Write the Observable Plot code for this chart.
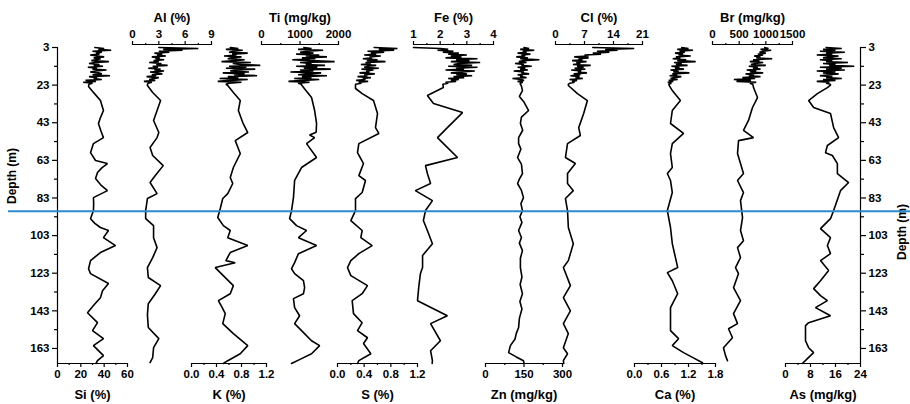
<!DOCTYPE html>
<html>
<head>
<meta charset="utf-8">
<script src="https://cdn.jsdelivr.net/npm/d3@7"></script>
<script src="https://cdn.jsdelivr.net/npm/@observablehq/plot@0.6"></script>
<style>
  body { margin: 0; background: #fff; }
  #chart { position: relative; width: 910px; height: 404px; background: #fff; }
  #chart svg { position: absolute; left: 0; top: 0; }
</style>
</head>
<body>
<div id="chart"></div>
<script>
// ---- Depth axis ----
const depthDomain = [3, 171];
const depthTicks = [3, 23, 43, 63, 83, 103, 123, 143, 163];
const depthMinor = [13, 33, 53, 73, 93, 113, 133, 153];
const boundaryDepth = 90;

// ---- Densely sampled upper interval (3–22.5 m) ----
const topDepth = [3, 3.5, 4, 4.5, 5, 5.5, 6, 6.5, 7, 7.5, 8, 8.5, 9, 9.5, 10, 10.5, 11, 11.5, 12, 12.5,
  13, 13.5, 14, 14.5, 15, 15.5, 16, 16.5, 17, 17.5, 18, 18.5, 19, 19.5, 20, 20.5, 21, 21.5, 22, 22.5];

const siTop = [32, 40, 35, 46, 30, 38, 33, 36, 28, 34, 40, 31, 37, 33, 29, 44, 32, 27, 36, 31,
  39, 26, 34, 30, 42, 33, 28, 35, 38, 30, 45, 27, 34, 31, 38, 24, 33, 22, 30, 27];
const alTop = [3.0, 7.5, 3.5, 5.7, 3.0, 4.2, 2.5, 3.4, 2.8, 3.8, 2.2, 3.1, 2.6, 3.6, 2.4, 3.0, 1.9, 3.3, 2.7, 4.0,
  2.3, 2.9, 1.8, 3.2, 2.5, 3.6, 2.0, 2.8, 3.4, 2.2, 2.7, 1.6, 3.0, 2.4, 1.9, 2.6, 1.3, 2.2, 1.8, 1.7];
const kTop = [0.62, 0.75, 0.55, 0.82, 0.68, 0.60, 0.90, 0.65, 0.72, 0.52, 0.80, 0.63, 0.58, 0.85, 0.70, 0.48, 0.95, 0.66, 0.78, 1.10,
  0.60, 0.88, 0.55, 1.02, 0.70, 0.62, 0.92, 0.50, 0.85, 0.68, 1.05, 0.58, 0.75, 0.45, 0.90, 0.62, 0.42, 0.80, 0.60, 0.55];
const tiTop = [1100, 1300, 950, 1600, 1200, 1000, 1350, 900, 1500, 1150, 1700, 1050, 1400, 800, 1250, 1900, 1000, 1300, 1150, 1650,
  900, 1450, 1100, 1800, 1000, 1350, 750, 1550, 1200, 950, 1700, 1050, 1300, 850, 1500, 1100, 700, 1250, 950, 1040];
const sTop = [0.55, 0.90, 0.62, 0.85, 0.45, 0.70, 0.50, 0.58, 0.40, 0.65, 0.48, 0.52, 0.38, 0.60, 0.44, 0.72, 0.42, 0.50, 0.35, 0.58,
  0.46, 0.40, 0.62, 0.36, 0.54, 0.43, 0.48, 0.33, 0.56, 0.40, 0.45, 0.30, 0.50, 0.38, 0.42, 0.28, 0.46, 0.32, 0.36, 0.27];
const feTop = [1.0, 2.0, 2.3, 1.9, 2.5, 2.1, 2.7, 2.3, 3.0, 2.4, 2.8, 2.2, 3.4, 2.6, 3.1, 2.4, 3.5, 2.7, 2.5, 3.2,
  2.3, 3.4, 2.6, 2.9, 2.2, 3.3, 2.8, 2.4, 3.0, 2.6, 3.2, 2.5, 2.9, 2.3, 2.7, 2.4, 2.6, 2.2, 2.3, 2.1];
const znTop = [150, 170, 135, 190, 145, 160, 125, 175, 140, 155, 120, 165, 135, 210, 145, 130, 160, 115, 150, 140,
  180, 125, 155, 135, 165, 110, 150, 140, 170, 125, 145, 135, 160, 105, 140, 150, 125, 145, 135, 136];
const clTop = [9, 19, 12, 15, 10, 13, 9, 11, 7, 8, 4.5, 8, 5.5, 6.5, 4, 7.5, 5, 6, 4.2, 8.5,
  5.2, 6.8, 4.6, 7.2, 3.8, 6.2, 5.4, 7.6, 4.4, 6, 3.6, 5.8, 4.8, 6.6, 3.4, 5.2, 4, 4.6, 3.5, 3.1];
const caTop = [1.05, 1.20, 0.95, 1.30, 1.00, 1.12, 0.90, 1.08, 0.98, 1.25, 0.92, 1.02, 0.85, 1.15, 0.95, 1.36, 0.88, 1.05, 0.92, 1.18,
  0.82, 1.00, 0.90, 1.10, 0.80, 0.98, 0.86, 1.22, 0.84, 0.95, 0.78, 1.04, 0.88, 0.80, 0.96, 0.76, 0.86, 0.74, 0.82, 0.76];
const brTop = [980, 1050, 900, 1100, 950, 880, 1000, 850, 950, 780, 900, 820, 1120, 760, 880, 700, 950, 800, 720, 1000,
  680, 850, 760, 900, 640, 820, 700, 950, 620, 780, 680, 900, 560, 800, 400, 720, 450, 820, 700, 750];
const asTop = [13, 18, 12, 16, 11, 19, 13, 15, 10, 17, 14, 12, 18, 11, 15, 13, 20, 12, 16, 14,
  22, 11, 18, 13, 19, 10, 16, 12, 17, 14, 11, 15, 13, 18, 12, 16, 10, 14, 13, 14.4];

// ---- Lower interval, [depth (m), value] ----
const siLow = [[23.7,26.6],[27,31],[31.2,36.8],[36.5,39.4],[40,37],[43.4,35.1],[47,37],[50.9,39.4],[54.1,30.8],[58.9,28.3],
  [63.1,32.6],[64.7,42.8],[67,38],[69.5,34.3],[72.7,32.6],[76,37],[79.1,42.8],[82.8,30.8],[86,31],[89.7,30.8],
  [94,28.3],[96.5,32],[98.7,36.8],[100.3,43.7],[104.1,39.4],[108.3,49.7],[112,36.8],[116.3,28.3],[120.6,26.6],[123.2,28.3],
  [128.5,43.7],[132.3,38.6],[136,36.8],[140,31],[144,25.7],[149.3,34.3],[153.5,30],[157.8,39.4],[161.5,30.8],[166.8,39.4],
  [169.5,34.3],[171,33]];
const alLow = [[23.2,1.7],[26.9,2.3],[31.2,3.2],[36.5,2.8],[41.8,2.4],[48.2,3.0],[50.9,2.8],[56.2,2.0],[60.4,2.3],[65.8,3.5],
  [71.1,2.6],[74.8,2.0],[80.7,2.8],[83.3,1.7],[89.7,1.5],[94,1.5],[97.7,2.4],[104.1,2.4],[109.4,2.8],[114.7,2.3],
  [120,1.7],[125.3,1.8],[129.6,3.2],[133.9,2.6],[139.2,1.8],[145,1.7],[151.9,1.8],[157.8,3.0],[162.6,2.4],[167.9,2.3],[170.5,2.0]];
const kLow = [[23.2,0.58],[26.9,0.67],[31.2,0.78],[36.5,0.75],[42.9,0.82],[48.2,0.90],[52.5,0.70],[59.4,0.78],[66.8,0.67],[72.1,0.62],
  [75.3,0.66],[80.7,0.58],[83.3,0.50],[88.6,0.46],[93.4,0.42],[97.7,0.51],[100.3,0.62],[104.1,0.58],[108.3,0.90],[112,0.62],
  [116.3,0.55],[117.4,0.70],[120,0.38],[122.7,0.46],[129.6,0.67],[133.9,0.62],[137.6,0.43],[141.8,0.50],[144.5,0.54],[149.8,0.50],
  [155.1,0.67],[161.5,0.90],[165.8,0.78],[169.5,0.58],[171,0.51]];
const tiLow = [[23,1040],[29.6,1300],[36.5,1380],[43.4,1430],[48,1420],[49.5,1250],[50.9,1380],[54.1,1170],[61.5,1430],[66.8,1040],
  [73.7,860],[82.8,830],[89.7,780],[94,730],[97.7,910],[100.3,1170],[104.1,960],[108.3,1430],[112.6,960],[117.4,860],
  [120.6,780],[123.2,860],[127,1090],[130.7,1120],[133.9,1090],[136.5,830],[141.3,860],[145.6,990],[149.8,860],[153.5,1040],
  [158.9,1300],[161.5,1510],[165.8,1300],[168.4,1040],[171,780]];
const sLow = [[24.8,0.27],[27.5,0.37],[31.2,0.54],[38.1,0.60],[45.6,0.57],[48.7,0.62],[54.1,0.32],[58.9,0.30],[64.7,0.39],[71.1,0.32],
  [73.7,0.42],[80.1,0.37],[83.3,0.27],[89.7,0.27],[95,0.20],[100.3,0.37],[104.1,0.35],[108.3,0.52],[112.6,0.32],[116.3,0.20],
  [120,0.15],[124.3,0.20],[129.6,0.45],[133.9,0.37],[137.6,0.22],[144.5,0.24],[149.3,0.37],[153.5,0.30],[157.3,0.45],[160.4,0.39],
  [165.8,0.50],[169.5,0.32],[171,0.30]];
const feLow = [[24.3,2.12],[28.5,1.52],[32.8,1.75],[37.6,2.84],[45.6,2.27],[50.9,1.90],[52.5,2.01],[61.5,2.65],[65.8,1.45],[70,1.52],
  [75.3,1.64],[79.1,1.07],[84.4,1.71],[89.7,1.45],[95,1.37],[100.3,1.52],[107.3,1.71],[113.6,1.34],[120,1.34],[123.2,1.26],
  [130,1.20],[137.6,1.15],[145.6,2.27],[149.8,1.64],[158.9,2.01],[164.2,1.64],[169.5,1.71],[171,1.70]];
const znLow = [[23.5,140],[25.9,144],[29,132],[32,150],[36.5,168],[40,140],[43.4,136],[47,145],[50.9,129],[54.1,129],
  [57,138],[61.5,125],[65,140],[70,144],[73,132],[75.3,125],[79,140],[82.8,148],[86,138],[89.7,144],
  [93,134],[96,142],[100.3,129],[104,140],[107,132],[111,144],[115,136],[120,136],[125,142],[129,135],
  [133.9,144],[138,134],[142,142],[147,132],[151.9,129],[155,120],[158,115],[161.5,97],[165.2,90],[167.5,120],[169.5,148],[171,150]];
const clLow = [[23.2,3.1],[27.5,5.3],[31.2,7.7],[38.1,6.8],[45.6,5.6],[49.8,6.0],[54.1,2.9],[61.5,2.4],[64.7,4.8],[70,2.9],
  [75.3,2.9],[79.1,4.3],[83.3,2.4],[89.7,2.9],[98.7,3.1],[107.3,4.3],[116.3,3.1],[120,1.9],[129.6,3.6],[136,1.9],
  [143,3.6],[149.8,1.9],[155.1,3.1],[162.6,1.9],[165.8,2.9],[169.5,1.9],[171,2.0]];
const caLow = [[23.5,0.78],[25.9,0.84],[31.2,1.02],[36.5,0.84],[43.4,0.80],[48.7,1.09],[54.1,0.84],[59.4,0.80],[66.8,0.84],[70,0.73],
  [73.7,0.80],[80.1,0.84],[89.7,0.73],[98.7,0.80],[107.3,0.84],[114.7,0.91],[120,0.96],[122.7,0.73],[127,0.84],[133.9,0.96],
  [141.3,0.80],[153.5,0.80],[157.8,0.98],[161.5,0.84],[165.2,1.09],[168,1.31],[170.6,1.51]];
const brLow = [[23,760],[24.3,769],[29.6,844],[34.9,750],[41.8,675],[47.1,581],[50.9,769],[52.5,488],[59.4,469],[64.7,525],
  [70,581],[73.7,469],[80.1,581],[84.4,525],[93.4,563],[100.3,525],[105.7,581],[109.4,469],[114.7,525],[120,431],
  [123.2,488],[130.7,394],[137.6,525],[144.5,394],[149.8,469],[152.5,300],[157.3,375],[162.6,206],[166.8,244],[169.5,281]];
const asLow = [[23,14.4],[24.3,13.4],[27.5,10.2],[31.2,7.4],[34.9,9.0],[38.1,14.4],[45.6,15.4],[50.9,17.0],[55.1,13.4],[58.9,12.8],
  [60.4,15.0],[64.7,16.6],[70,16.6],[74.8,20.2],[79.1,17.6],[89.7,15.4],[94,14.4],[99.3,11.2],[104.1,14.4],[108.3,13.4],
  [112.6,14.4],[116.3,11.2],[121.6,13.8],[127,11.2],[131.2,9.0],[134.9,11.2],[137.6,13.4],[141.3,9.6],[145.6,14.4],[149.3,7.4],
  [150.9,6.4],[158.9,6.4],[162.6,7.4],[165.2,9.0],[168.4,7.0],[171,5.4]];

// ---- Axis definitions per element ----
const elements = [
  {label: "Si (%)",     top: siTop, low: siLow, domain: [0, 60],    ticks: [0, 20, 40, 60],        minor: [10, 30, 50],        fmt: "d"},
  {label: "Al (%)",     top: alTop, low: alLow, domain: [0, 9],     ticks: [0, 3, 6, 9],           minor: [1.5, 4.5, 7.5],     fmt: "d"},
  {label: "K (%)",      top: kTop,  low: kLow,  domain: [0, 1.2],   ticks: [0, 0.4, 0.8, 1.2],     minor: [0.2, 0.6, 1.0],     fmt: ".1f"},
  {label: "Ti (mg/kg)", top: tiTop, low: tiLow, domain: [0, 2000],  ticks: [0, 1000, 2000],        minor: [500, 1500],         fmt: "d"},
  {label: "S (%)",      top: sTop,  low: sLow,  domain: [0, 1.2],   ticks: [0, 0.4, 0.8, 1.2],     minor: [0.2, 0.6, 1.0],     fmt: ".1f"},
  {label: "Fe (%)",     top: feTop, low: feLow, domain: [1, 4],     ticks: [1, 2, 3, 4],           minor: [1.5, 2.5, 3.5],     fmt: "d"},
  {label: "Zn (mg/kg)", top: znTop, low: znLow, domain: [0, 300],   ticks: [0, 150, 300],          minor: [75, 225],           fmt: "d"},
  {label: "Cl (%)",     top: clTop, low: clLow, domain: [0, 21],    ticks: [0, 7, 14, 21],         minor: [3.5, 10.5, 17.5],   fmt: "d"},
  {label: "Ca (%)",     top: caTop, low: caLow, domain: [0, 1.8],   ticks: [0, 0.6, 1.2, 1.8],     minor: [0.3, 0.9, 1.5],     fmt: ".1f"},
  {label: "Br (mg/kg)", top: brTop, low: brLow, domain: [0, 1500],  ticks: [0, 500, 1000, 1500],   minor: [250, 750, 1250],    fmt: "d"},
  {label: "As (mg/kg)", top: asTop, low: asLow, domain: [0, 24],    ticks: [0, 8, 16, 24],         minor: [4, 12, 20],         fmt: "d"}
];

// ---- Layout: horizontal pixel span of each panel and which side carries its axis ----
const layout = [
  {range: [57, 127],  side: "bottom"},
  {range: [132, 211], side: "top"},
  {range: [191, 266], side: "bottom"},
  {range: [261, 338], side: "top"},
  {range: [337, 417], side: "bottom"},
  {range: [413, 493], side: "top"},
  {range: [485, 562], side: "bottom"},
  {range: [555, 642], side: "top"},
  {range: [634, 715], side: "bottom"},
  {range: [712, 792], side: "top"},
  {range: [785, 860], side: "bottom"}
];

const W = 910, H = 404;
const frame = {marginTop: 44, marginBottom: 41};
const yScale = {domain: depthDomain, range: [47, 363], axis: null};
const font = "'Liberation Sans', Arial, sans-serif";
const baseStyle = {background: "transparent", overflow: "visible", fontFamily: font, fontSize: "11px", fontWeight: "bold", color: "#000"};
const tickFont = 11.5, titleFont = 13;

const chart = document.getElementById("chart");

elements.forEach((el, i) => {
  const lay = layout[i];
  const data = [
    ...el.top.map((v, j) => ({d: topDepth[j], v})),
    ...el.low.map(([d, v]) => ({d, v}))
  ];
  const isTop = lay.side === "top";
  const mid = (el.domain[0] + el.domain[1]) / 2;
  const svg = Plot.plot({
    width: W, height: H, ...frame, marginLeft: 0, marginRight: 0,
    style: baseStyle,
    x: {domain: el.domain, range: lay.range},
    y: yScale,
    marks: [
      Plot.line(data, {x: "v", y: "d", stroke: "#000", strokeWidth: 1.6, strokeLinejoin: "miter"}),
      Plot.ruleY([isTop ? depthDomain[0] : depthDomain[1]], {x1: el.domain[0], x2: el.domain[1], dy: isTop ? -3 : 0, stroke: "#000", strokeWidth: 1.2}),
      Plot.axisX({anchor: lay.side, ticks: el.ticks, tickSize: 4, tickPadding: isTop ? 3 : 2, tickFormat: d3.format(el.fmt), label: null, strokeWidth: 1.2, fontSize: tickFont}),
      Plot.axisX({anchor: lay.side, ticks: el.minor, tickSize: 2, tickFormat: () => "", label: null, strokeWidth: 1.2}),
      Plot.text([el.label], {x: mid, y: isTop ? depthDomain[0] : depthDomain[1], dy: isTop ? -30 : 31, fontSize: titleFont})
    ]
  });
  chart.appendChild(svg);
});

// ---- Depth axes on both sides ----
chart.appendChild(Plot.plot({
  width: W, height: H, ...frame, marginLeft: 57, marginRight: 50,
  style: baseStyle,
  x: {domain: [0, 1], axis: null},
  y: yScale,
  marks: [
    Plot.ruleX([0, 1], {y1: depthDomain[0], y2: depthDomain[1], stroke: "#000", strokeWidth: 1.2}),
    Plot.axisY({anchor: "left", ticks: depthTicks, tickSize: 5, tickPadding: 3, label: null, strokeWidth: 1.2, fontSize: tickFont}),
    Plot.axisY({anchor: "left", ticks: depthMinor, tickSize: 3, tickFormat: () => "", label: null, strokeWidth: 1.2}),
    Plot.axisY({anchor: "right", ticks: depthTicks, tickSize: 5, tickPadding: 3, label: null, strokeWidth: 1.2, fontSize: tickFont}),
    Plot.axisY({anchor: "right", ticks: depthMinor, tickSize: 3, tickFormat: () => "", label: null, strokeWidth: 1.2}),
    Plot.text(["Depth (m)"], {frameAnchor: "left", dx: -45, rotate: -90, fontSize: 12}),
    Plot.text(["Depth (m)"], {frameAnchor: "right", dx: 42, rotate: -90, fontSize: 12})
  ]
}));

// ---- Boundary line across the profiles ----
chart.appendChild(Plot.plot({
  width: W, height: H, ...frame, marginLeft: 8, marginRight: 0,
  style: baseStyle,
  x: {domain: [0, 1], axis: null},
  y: yScale,
  marks: [
    Plot.ruleY([boundaryDepth], {stroke: "#2b8bd0", strokeWidth: 2})
  ]
}));
</script>
</body>
</html>
